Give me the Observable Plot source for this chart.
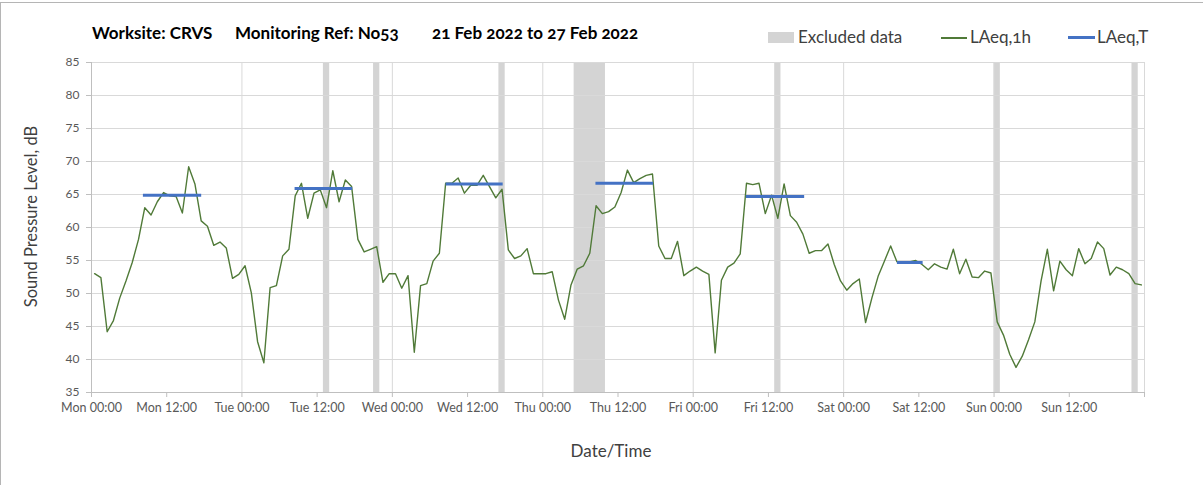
<!DOCTYPE html>
<html><head><meta charset="utf-8">
<script src="https://cdn.jsdelivr.net/npm/d3@7"></script>
<script src="https://cdn.jsdelivr.net/npm/@observablehq/plot@0.6"></script>
<style>
body{margin:0;background:#fff;font-family:Lato,"Open Sans",sans-serif;font-variant-numeric:oldstyle-nums;}
#wrap{position:relative;width:1203px;height:485px;overflow:hidden;background:#fff}
#frame{position:absolute;left:0;top:2px;width:1230px;height:520px;border-top:1px solid #b5b5b5;border-left:1px solid #b5b5b5;pointer-events:none}
#header{position:relative;height:50px}
.t{position:absolute;top:23px;font-size:17px;font-weight:bold;color:#000;line-height:20px;white-space:nowrap}
.lg{position:absolute;top:27px;font-size:17px;color:#404040;line-height:20px;white-space:nowrap}
.sw{position:absolute}
</style>
</head><body>
<div id="wrap"><div id="frame"></div><div id="header"></div><div id="chart"></div></div>
<script>
// ---- data ----
const titleParts = ["Worksite: CRVS", "Monitoring Ref: No53", "21 Feb 2022 to 27 Feb 2022"];
const legendLabels = ["Excluded data", "LAeq,1h", "LAeq,T"];
const days = ["Mon","Tue","Wed","Thu","Fri","Sat","Sun"];
const tickLabels = days.flatMap(d => [d + " 00:00", d + " 12:00"]);
const yTicks = [35,40,45,50,55,60,65,70,75,80,85];
// hourly LAeq,1h values (dB), one per hour from Mon 00:00
const laeq1h = [
53.0,52.4,44.2,45.9,49.3,51.9,54.7,58.2,63.0,61.9,63.9,65.3,64.8,64.7,62.2,69.2,66.6,61.0,60.2,57.3,57.8,56.9,52.3,52.9,54.2,50.1,42.7,39.5,
50.9,51.2,55.7,56.7,64.8,66.7,61.4,65.2,65.7,63.0,68.6,63.9,67.2,66.2,58.2,56.3,56.7,57.1,51.7,53.0,53.0,50.8,52.7,41.1,51.2,51.5,54.9,
56.1,66.7,66.7,67.5,65.2,66.4,66.4,67.9,66.2,64.5,65.8,56.6,55.3,55.7,56.8,53.0,53.0,53.0,53.3,49.0,46.1,51.3,53.7,54.2,56.1,63.3,62.1,
62.4,63.1,65.3,68.7,66.8,67.4,67.9,68.1,57.2,55.3,55.3,57.9,52.7,53.4,54.0,53.4,52.9,41.0,52.0,54.0,54.6,56.0,66.7,66.5,66.7,62.1,64.9,
61.4,66.6,61.8,60.8,59.0,56.1,56.5,56.5,57.5,54.4,51.9,50.5,51.5,52.2,45.6,49.3,52.6,54.9,57.2,54.8,54.8,54.8,55.0,54.4,53.6,54.5,54.0,53.7,56.7,
53.0,55.2,52.5,52.4,53.4,53.1,45.7,43.7,40.8,38.8,40.5,43.0,45.7,51.9,56.7,50.4,54.9,53.6,52.7,56.8,54.5,55.3,57.8,56.8,52.8,54.0,53.6,53.0,51.5,51.3
];
// LAeq,T periods (hours from Mon 00:00)
const periodStart = [8.2, 32.4, 56.5, 80.4, 104.4, 128.5];
const periodEnd   = [17.5, 41.6, 65.6, 89.6, 113.7, 132.6];
const periodValue = [64.9, 65.9, 66.6, 66.7, 64.7, 54.7];
// excluded data intervals (hours from Mon 00:00)
const exclStart = [37, 45, 65, 77, 109, 144, 166];
const exclEnd   = [38, 46, 66, 82, 110, 145, 167];

const GREEN = "#507a38", BLUE = "#4472c4", BAND = "#d4d4d4", GRID = "#d9d9d9", AXIS = "#bfbfbf";

// ---- header (title + legend) ----
const header = document.getElementById("header");
const titleLeft = [92, 235, 432];
titleParts.forEach((t, i) => {
  const s = document.createElement("div"); s.className = "t"; s.style.left = titleLeft[i] + "px"; s.textContent = t; header.appendChild(s);
});
const lg = [
  {sw: {left:768, top:32, width:26, height:11, background:BAND}, left:798},
  {sw: {left:941, top:37, width:26, height:1.6, background:GREEN}, left:970},
  {sw: {left:1068, top:36, width:27, height:3, background:BLUE}, left:1097}
];
lg.forEach((l, i) => {
  const d = document.createElement("div"); d.className = "sw";
  Object.entries(l.sw).forEach(([k, v]) => d.style[k] = typeof v === "number" ? v + "px" : v);
  header.appendChild(d);
  const s = document.createElement("div"); s.className = "lg"; s.style.left = l.left + "px"; s.textContent = legendLabels[i]; header.appendChild(s);
});

// ---- chart ----
const hourly = laeq1h.map((v, i) => ({t: i + 0.5, v}));
const periods = periodValue.map((v, i) => ({x1: periodStart[i], x2: periodEnd[i], v}));
const excl = exclStart.map((s, i) => ({x1: s, x2: exclEnd[i]}));

const chart = Plot.plot({
  width: 1203, height: 435,
  marginLeft: 91, marginRight: 59, marginTop: 12, marginBottom: 93,
  style: {fontFamily: "Lato, 'Open Sans', sans-serif", fontSize: "12.5px", color: "#595959", background: "#fff", fontVariantNumeric: "oldstyle-nums"},
  x: {domain: [0, 168]},
  y: {domain: [35, 85]},
  marks: [
    Plot.rect(excl, {x1: "x1", x2: "x2", y1: 35, y2: 85, fill: BAND}),
    Plot.ruleY(yTicks.filter(d => d > 35), {stroke: GRID, strokeWidth: 1}),
    Plot.ruleX(d3.range(24, 169, 24), {stroke: GRID, strokeWidth: 1}),
    Plot.ruleY([35], {stroke: AXIS}),
    Plot.ruleX([0], {stroke: AXIS}),
    Plot.axisY({ticks: yTicks, tickSize: 5, tickPadding: 7, stroke: AXIS, label: null, fill: "#595959", fontSize: 12}),
    Plot.axisX({ticks: d3.range(0, 169, 12), tickSize: 5, tickPadding: 6, stroke: AXIS, label: null, fill: "#595959",
      tickFormat: h => h < 168 ? tickLabels[h / 12] : ""}),
    Plot.line(hourly, {x: "t", y: "v", stroke: GREEN, strokeWidth: 1.4}),
    Plot.link(periods, {x1: "x1", x2: "x2", y1: "v", y2: "v", stroke: BLUE, strokeWidth: 3}),
    Plot.text(["Sound Pressure Level, dB"], {frameAnchor: "left", textAnchor: "middle", lineAnchor: "middle", rotate: -90, dx: -60, dy: -11, fontSize: 16.5, fill: "#404040"}),
    Plot.text(["Date/Time"], {frameAnchor: "bottom", textAnchor: "middle", dx: -7, dy: 64, fontSize: 17, fill: "#404040"})
  ]
});
document.getElementById("chart").appendChild(chart);
</script>
</body></html>
